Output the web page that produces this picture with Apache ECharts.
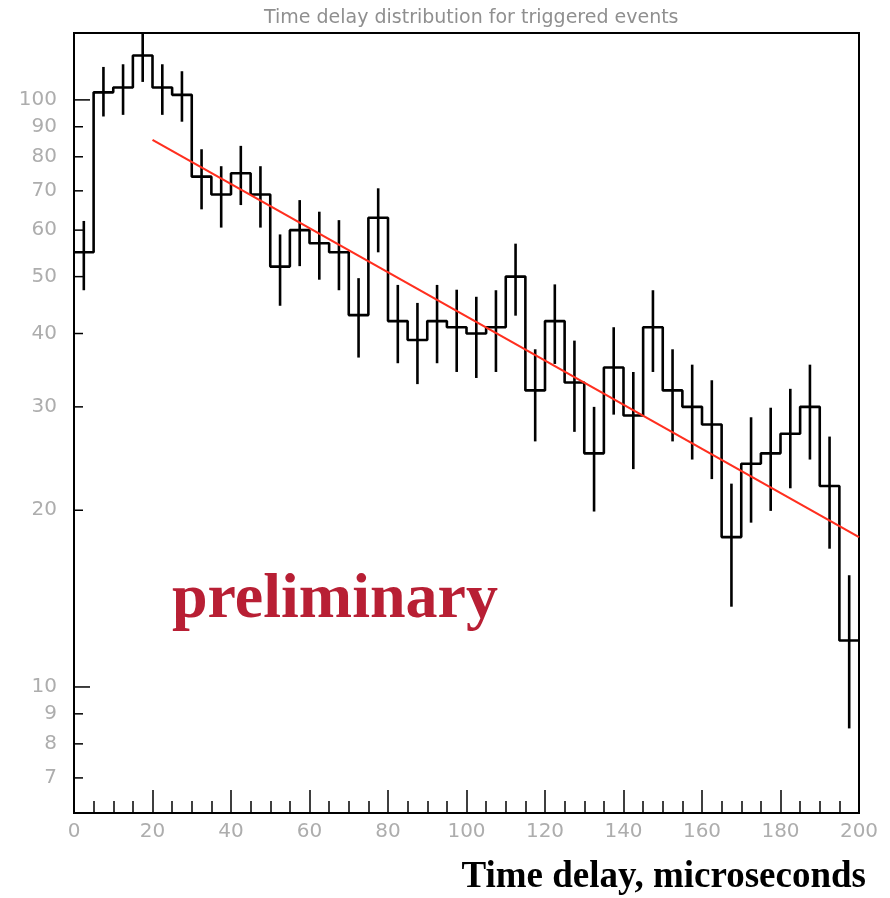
<!DOCTYPE html>
<html><head><meta charset="utf-8">
<script src="https://cdn.jsdelivr.net/npm/echarts@6/dist/echarts.min.js"></script>
<style>html,body{margin:0;padding:0;background:#fff}#c{width:890px;height:898px}</style>
</head><body><div id="c"></div>
<script>
// ---- data ----
const binLow = [0,5,10,15,20,25,30,35,40,45,50,55,60,65,70,75,80,85,90,95,
                100,105,110,115,120,125,130,135,140,145,150,155,160,165,170,175,180,185,190,195];
const binWidth = 5;
const counts = [55,103,105,119,105,102,74,69,75,69,52,60,57,55,43,63,42,39,42,41,
                40,41,50,32,42,33,25,35,29,41,32,30,28,18,24,25,27,30,22,12];
const errLow = [47.4,93.7,94.3,107.3,94.3,91.8,65.1,60.6,66.2,60.6,44.6,52.1,49.4,47.4,36.4,55.0,35.6,32.8,35.6,34.4,
                33.6,34.4,42.9,26.2,35.5,27.2,19.9,29.1,23.5,34.4,26.2,24.4,22.6,13.7,19.05,19.95,21.8,24.4,17.2,8.5];
const errHigh = [62.2,113.8,115,130,115,111.9,82.4,77.1,83.5,77.1,59.0,67.5,64.5,62.4,49.7,70.7,48.4,45.1,48.4,47.5,
                 46.2,47.4,56.9,37.6,48.5,38.9,30.0,41.0,34.4,47.4,37.6,35.4,33.3,22.2,28.8,29.9,32.2,35.4,26.7,15.5];
const fitX = [20, 200];
const fitY = [85.5, 18.0];
const yTickValues = [7,8,9,10,20,30,40,50,60,70,80,90,100];
const yTickLabels = ['7','8','9','10','20','30','40','50','60','70','80','90','100'];
const yMajorTicks = [10, 100];
const titleText = 'Time delay distribution for triggered events';
const xTitle = 'Time delay, microseconds';
const watermark = 'preliminary';

// ---- build series data ----
const histData = [];
binLow.forEach((lo, i) => { histData.push([lo, counts[i]]); histData.push([lo + binWidth, counts[i]]); });
const errData = binLow.map((lo, i) => [lo + binWidth / 2, errLow[i], errHigh[i]]);
const fitData = fitX.map((x, i) => [x, fitY[i]]);
const yTickData = yTickValues.map((v, i) => [0, v, i]);

const Y_MIN = 6.1, Y_MAX = 130;
const chart = echarts.init(document.getElementById('c'), null, {renderer: 'canvas'});
chart.setOption({
  animation: false,
  backgroundColor: '#fff',
  title: {
    text: titleText, left: 259, top: 4,
    textStyle: {fontSize: 19, fontWeight: 'normal', color: '#8f8f8f', fontFamily: 'DejaVu Sans'}
  },
  grid: {left: 74, right: 31, top: 33, bottom: 85, show: true, borderColor: '#000', borderWidth: 2, containLabel: false},
  xAxis: {
    type: 'value', min: 0, max: 200, interval: 20,
    axisLine: {show: true, onZero: false, lineStyle: {color: '#000', width: 2}},
    axisTick: {show: true, inside: true, length: 23, lineStyle: {color: '#000', width: 1.5}},
    minorTick: {show: true, splitNumber: 4, length: 12, lineStyle: {color: '#000', width: 1.5}},
    axisLabel: {color: '#adadad', fontSize: 20, fontFamily: 'DejaVu Sans', margin: 9},
    splitLine: {show: false}
  },
  yAxis: {
    type: 'log', min: Y_MIN, max: Y_MAX, logBase: 10,
    axisLine: {show: true, onZero: false, lineStyle: {color: '#000', width: 2}},
    axisTick: {show: false}, axisLabel: {show: false}, splitLine: {show: false}, minorTick: {show: false}
  },
  series: [
    {
      type: 'custom', clip: false, z: 5,
      data: yTickData,
      encode: {x: 0, y: 1},
      renderItem: function (params, api) {
        const v = api.value(1);
        const idx = api.value(2);
        const p = api.coord([0, v]);
        const len = yMajorTicks.indexOf(v) >= 0 ? 16 : 9;
        return {
          type: 'group',
          children: [
            {type: 'line', shape: {x1: p[0], y1: p[1], x2: p[0] + len, y2: p[1]},
             style: {stroke: '#000', lineWidth: 1.5}},
            {type: 'text', style: {text: yTickLabels[idx], x: p[0] - 17, y: p[1],
              align: 'right', verticalAlign: 'middle', fill: '#adadad', font: '20px "DejaVu Sans"'}}
          ]
        };
      }
    },
    {
      type: 'line', data: histData, showSymbol: false, symbol: 'none', z: 3,
      lineStyle: {color: '#000', width: 2.6}
    },
    {
      type: 'custom', z: 3, clip: true,
      data: errData,
      encode: {x: 0, y: [1, 2]},
      renderItem: function (params, api) {
        const x = api.value(0);
        const lo = api.value(1);
        const hi = Math.min(api.value(2), Y_MAX);
        const p1 = api.coord([x, lo]);
        const p2 = api.coord([x, hi]);
        return {type: 'line', shape: {x1: p1[0], y1: p1[1], x2: p2[0], y2: p2[1]},
                style: {stroke: '#000', lineWidth: 2.6}};
      }
    },
    {
      type: 'line', data: fitData, showSymbol: false, symbol: 'none', z: 6,
      lineStyle: {color: '#ff2f1f', width: 2.2}
    }
  ],
  graphic: [
    {type: 'text', left: 172, top: 568, z: 10,
     style: {text: watermark, fill: '#b81f34', font: 'bold 64px "Liberation Serif"'}},
    {type: 'text', right: 24, top: 859, z: 10,
     style: {text: xTitle, fill: '#000', font: 'bold 37px "Liberation Serif"'}}
  ]
});
</script></body></html>
